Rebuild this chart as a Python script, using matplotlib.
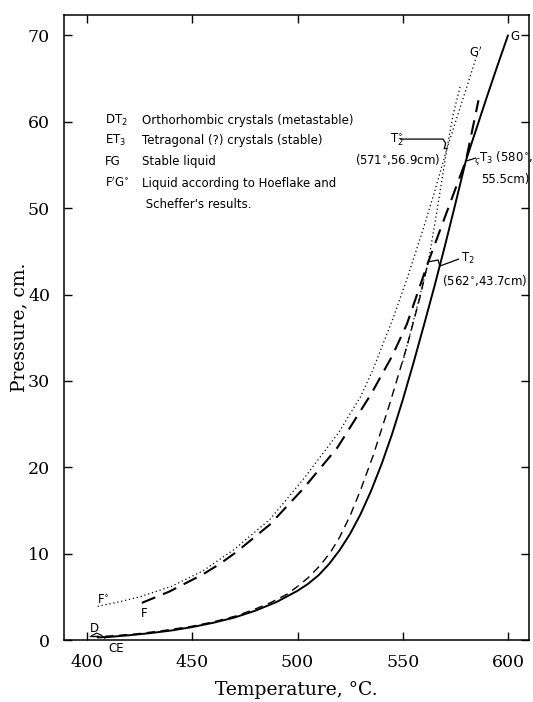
import matplotlib
matplotlib.use("Agg")
import matplotlib.pyplot as plt

# ---- data (temperature °C, pressure cm) ----
# E T3 G : solid curve (tetragonal crystals, then stable liquid to G)
T_solid = [405, 410, 420, 430, 440, 450, 460, 470, 480, 490, 500, 505, 510, 515,
           520, 525, 530, 535, 540, 545, 550, 555, 560, 565, 570, 575, 580, 585,
           590, 595, 600]
P_solid = [0.3, 0.35, 0.55, 0.8, 1.1, 1.5, 2.0, 2.6, 3.4, 4.4, 5.7, 6.5, 7.5, 8.8,
           10.4, 12.3, 14.6, 17.3, 20.4, 23.9, 27.8, 32.0, 36.4, 40.9, 45.6, 50.5,
           55.5, 59.2, 62.9, 66.5, 70.0]

# F ... T2 ... T3 : long dashed liquid curve (with extension above T3)
T_liq = [426, 439, 455, 463, 471, 487, 503, 519, 535, 545, 552, 562, 571, 580, 586]
P_liq = [4.3, 5.6, 7.6, 8.8, 10.2, 13.4, 17.6, 22.3, 28.5, 32.9, 36.6, 43.7, 49.6,
         55.5, 62.5]

# D T2 : orthorhombic crystals (metastable), medium dashed
T_orth = [402, 410, 423, 435, 450, 460, 471, 480, 487, 495, 500, 505, 511, 516,
          520, 525, 530, 536, 544, 552, 558, 562]
P_orth = [0.4, 0.45, 0.7, 1.05, 1.6, 2.1, 2.8, 3.6, 4.3, 5.3, 6.2, 7.2, 8.7, 10.3,
          11.9, 14.4, 17.4, 21.4, 27.5, 34.0, 39.5, 43.7]

# F'G' : liquid according to Hoeflake and Scheffer, dotted
T_hs_liq = [405, 415, 425, 440, 455, 470, 487, 503, 519.5, 530, 536, 545, 552,
            560, 565, 571, 578, 585.5]
P_hs_liq = [3.9, 4.4, 5.0, 6.2, 8.0, 10.5, 14.0, 18.7, 24.0, 28.2, 31.4, 37.0,
            41.8, 47.8, 51.8, 56.9, 62.2, 67.9]

# Hoeflake & Scheffer orthorhombic branch through T2', dotted
T_hs_orth = [550, 556, 562, 566, 571, 574, 577.5]
P_hs_orth = [32.2, 37.8, 43.6, 49.3, 56.9, 60.9, 64.3]

x_ticks = [400, 450, 500, 550, 600]
y_ticks = [0, 10, 20, 30, 40, 50, 60, 70]

legend_codes = ["DT$_2$", "ET$_3$", "FG", "F$'$G$^{\\circ}$", ""]
legend_texts = ["Orthorhombic crystals (metastable)",
                "Tetragonal (?) crystals (stable)",
                "Stable liquid",
                "Liquid according to Hoeflake and",
                " Scheffer's results."]

# ---- figure ----
fig = plt.figure(figsize=(5.33, 7.02), dpi=100)
ax = fig.add_axes([0.120, 0.0883, 0.8725, 0.8907])

ax.plot(T_solid, P_solid, color="black", lw=1.4, solid_capstyle="round")
ax.plot(T_liq, P_liq, color="black", lw=1.5, dashes=(7, 4))
ax.plot(T_orth, P_orth, color="black", lw=1.0, dashes=(6, 4))
ax.plot(T_hs_liq, P_hs_liq, color="black", lw=0.9, dashes=(1, 2.2))
ax.plot(T_hs_orth, P_hs_orth, color="black", lw=0.9, dashes=(1, 2.2))

ax.set_xlim(389, 610)
ax.set_ylim(0, 72.4)
ax.set_xticks(x_ticks)
ax.set_yticks(y_ticks)
ax.tick_params(direction="in", length=6, width=1.0, top=True, right=True,
               labelsize=12.5, pad=10)
for lab in ax.get_xticklabels() + ax.get_yticklabels():
    lab.set_family("DejaVu Serif")
for s in ax.spines.values():
    s.set_linewidth(1.1)

ax.set_xlabel("Temperature, °C.", family="DejaVu Serif", fontsize=13.5, labelpad=7)
ax.set_ylabel("Pressure, cm.", family="DejaVu Serif", fontsize=13.5, labelpad=0)

tf = dict(fontsize=8.5, family="DejaVu Sans", color="black", va="center")

# legend block
rows_P = [60.2, 57.8, 55.4, 52.9, 50.4]
for code, txt, p in zip(legend_codes, legend_texts, rows_P):
    if code:
        ax.text(408.4, p, code, ha="left", **tf)
    ax.text(426, p, txt, ha="left", **tf)

# point labels
ax.text(601.0, 69.9, "G", ha="left", **tf)
ax.text(581.5, 68.0, "G$'$", ha="left", **tf)
ax.text(404.5, 4.6, "F$^{\\circ}$", ha="left", **tf)
ax.text(425.5, 3.1, "F", ha="left", **tf)
ax.text(401.5, 1.3, "D", ha="left", **tf)
ax.text(410.0, -1.0, "CE", ha="left", clip_on=False, **tf)
ax.plot([401.5, 404.5, 406.5, 408.5], [0.4, 0.8, 0.6, 0.2], color="black", lw=0.8)

# T2' annotation
ax.text(544.0, 57.9, "T$_2^{\\circ}$", ha="left", **tf)
ax.text(568.0, 55.6, "(571$^{\\circ}$,56.9cm)", ha="right", **tf)
ax.plot([549.0, 569.2, 570.4, 569.7, 571.0], [58.0, 58.0, 57.5, 56.9, 56.9],
        color="black", lw=0.9)

# T3 annotation
ax.text(584.0, 55.7, "$_{\\varsigma}$T$_3$ (580$^{\\circ}$,", ha="left", **tf)
ax.text(610.3, 53.3, "55.5cm)", ha="right", **tf)
ax.plot([584.6, 580.6], [55.8, 55.5], color="black", lw=0.9)

# T2 annotation
ax.text(577.5, 44.2, "T$_2$", ha="left", **tf)
ax.text(568.8, 41.6, "(562$^{\\circ}$,43.7cm)", ha="left", **tf)
ax.plot([562.4, 566.8, 567.6, 576.5], [43.8, 44.0, 43.3, 44.1],
        color="black", lw=0.9)

fig.savefig("out.png", dpi=100)
